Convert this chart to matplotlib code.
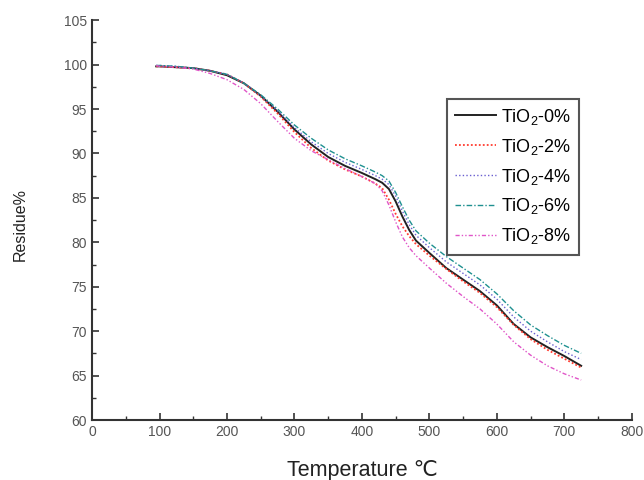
import matplotlib
matplotlib.use("Agg")
import matplotlib.pyplot as plt
from matplotlib.ticker import MultipleLocator

plt.rcParams['font.family'] = ['Liberation Sans', 'DejaVu Sans']
plt.rcParams['mathtext.fontset'] = 'custom'
plt.rcParams['mathtext.rm'] = 'Liberation Sans'

# temperature grid (C)
temp = [95, 100, 125, 150, 175, 200, 225, 250, 275, 300, 325, 350, 375, 400, 420,
        430, 440, 450, 460, 470, 480, 500, 525, 550, 575, 600, 625, 650, 675, 700, 725]

# residue % for each TiO2 loading
res_0 = [99.8, 99.8, 99.7, 99.6, 99.3, 98.8, 97.9, 96.5, 94.7, 92.7, 91.0, 89.6, 88.6, 87.8, 87.1,
         86.7, 86.0, 84.6, 82.9, 81.4, 80.2, 78.8, 77.1, 75.8, 74.5, 72.9, 70.8, 69.3, 68.2, 67.2, 66.1]
res_2 = [99.8, 99.8, 99.7, 99.6, 99.3, 98.9, 97.9, 96.4, 94.5, 92.4, 90.6, 89.2, 88.2, 87.4, 86.6,
         86.1, 84.8, 83.2, 81.8, 80.7, 79.8, 78.5, 77.0, 75.6, 74.3, 72.7, 70.7, 69.1, 67.9, 66.9, 65.9]
res_4 = [99.9, 99.9, 99.8, 99.6, 99.3, 98.9, 97.9, 96.5, 94.8, 92.9, 91.3, 90.0, 89.0, 88.2, 87.5,
         87.1, 86.5, 85.2, 83.5, 82.0, 80.8, 79.4, 77.8, 76.5, 75.2, 73.6, 71.6, 70.0, 68.8, 67.7, 66.8]
res_6 = [99.9, 99.9, 99.8, 99.6, 99.3, 98.9, 97.9, 96.6, 95.0, 93.2, 91.7, 90.4, 89.4, 88.6, 87.9,
         87.5, 86.9, 85.6, 84.0, 82.5, 81.3, 79.9, 78.4, 77.1, 75.8, 74.2, 72.3, 70.7, 69.5, 68.4, 67.5]
res_8 = [99.9, 99.8, 99.7, 99.5, 99.0, 98.3, 97.2, 95.6, 93.6, 91.7, 90.3, 89.3, 88.3, 87.4, 86.6,
         85.8, 84.2, 82.3, 80.6, 79.4, 78.5, 77.1, 75.4, 73.9, 72.5, 70.8, 68.8, 67.3, 66.1, 65.2, 64.5]

labels = ['TiO$_2$-0%', 'TiO$_2$-2%', 'TiO$_2$-4%', 'TiO$_2$-6%', 'TiO$_2$-8%']

fig = plt.figure(figsize=(6.44, 4.8), dpi=100)
ax = fig.add_axes([0.143, 0.125, 0.838, 0.833])

ax.plot(temp, res_0, color='#222222', lw=1.4, ls='-', label=labels[0])
ax.plot(temp, res_2, color='#ff3b2f', lw=1.3, ls=(0, (1, 1.2)), label=labels[1])
ax.plot(temp, res_4, color='#6a5fd0', lw=1.0, ls=(0, (1, 1.6)), label=labels[2])
ax.plot(temp, res_6, color='#1f9090', lw=1.0, ls=(0, (4, 1.5, 1, 1.5)), label=labels[3])
ax.plot(temp, res_8, color='#e055c8', lw=1.0, ls=(0, (3, 1.5, 1, 1.5, 1, 1.5)), label=labels[4])

ax.set_xlim(0, 800)
ax.set_ylim(60, 105)
ax.xaxis.set_major_locator(MultipleLocator(100))
ax.xaxis.set_minor_locator(MultipleLocator(50))
ax.yaxis.set_major_locator(MultipleLocator(5))
ax.yaxis.set_minor_locator(MultipleLocator(2.5))

for s in ['top', 'right']:
    ax.spines[s].set_visible(False)
for s in ['left', 'bottom']:
    ax.spines[s].set_linewidth(1.5)
    ax.spines[s].set_color('#333333')

ax.tick_params(which='both', direction='in', colors='#333333', labelcolor='#555555', labelsize=10)
ax.tick_params(which='major', length=5, width=1.2)
ax.tick_params(which='minor', length=3, width=1.0)

ax.set_xlabel('Temperature ℃', fontsize=15.5, color='#222222')
ax.xaxis.set_label_coords(0.5, -0.1)
ax.set_ylabel('Residue%', fontsize=11.5, color='#222222')
ax.yaxis.set_label_coords(-0.12, 0.49)

leg = ax.legend(loc='upper left', bbox_to_anchor=(0.657, 0.804), borderaxespad=0,
                fontsize=13, handlelength=2.3, handletextpad=0.25, labelspacing=0.55,
                fancybox=False, edgecolor='#555555', framealpha=1, borderpad=0.45)
leg.get_frame().set_linewidth(1.5)

fig.savefig('out.png', dpi=100)
